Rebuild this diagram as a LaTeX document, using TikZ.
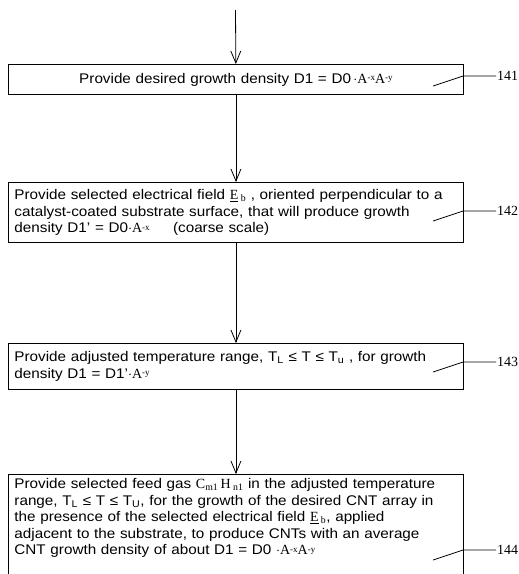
\documentclass[tikz,border=0pt]{standalone}
\usepackage{fontspec}
\setmainfont{Liberation Sans}[FakeStretch=1.09]
\newfontfamily\serf{Liberation Serif}
\usetikzlibrary{arrows.meta}
\newcommand{\Apow}[1]{{\serf A\raisebox{0.4ex}{\fontsize{9}{9}\selectfont #1}}}

\begin{document}
\begin{tikzpicture}[x=1pt,y=-1pt,>={Straight Barb[length=12pt,width=10pt]},
    stepbox/.style={draw,line width=0.9pt,anchor=north west,text width=443pt,inner xsep=6pt,inner ysep=4pt,font=\fontsize{14}{16.5}\selectfont,align=left},
    tag/.style={font=\serf\fontsize{14}{16}\selectfont,anchor=west,inner sep=1pt}]
    \useasboundingbox (0,0) rectangle (519,574);

    \coordinate (top) at (235.5,10);
    \node[stepbox,align=center,minimum height=30pt] (s1) at (8,64) {Provide desired growth density D1 = D0\,$\cdot$\Apow{-x}\Apow{-y}};
    \node[stepbox,minimum height=60pt] (s2) at (8,182) {Provide selected electrical field {\serf\underline{E}\,\textsubscript{b}} , oriented perpendicular to a\\
        catalyst-coated substrate surface, that will produce growth\\
        density D1' = D0$\cdot$\Apow{-x}\quad\ \ (coarse scale)};
    \node[stepbox,minimum height=46pt] (s3) at (8,343) {Provide adjusted temperature range,  T\textsubscript{L} ≤ T ≤ T\textsubscript{u} , for growth\\
        density D1 = D1'$\cdot$\Apow{-y}};
    \node[stepbox,draw=none] (s4) at (8,474) {Provide selected feed gas {\serf C\textsubscript{m1}\,H\,\textsubscript{n1}} in the adjusted  temperature\\
        range, T\textsubscript{L} ≤ T ≤ T\textsubscript{U}, for the growth of the desired CNT array in\\
        the presence of the selected electrical field {\serf\underline{E}\,\textsubscript{b}}, applied\\
        adjacent to the substrate,  to produce CNTs with an average\\
        CNT growth density of about D1 = D0 $\cdot$\Apow{-x}\Apow{-y}};
    % open bottom of last step
    \draw[line width=0.9pt] ([yshift=-30pt]s4.south west) |- (s4.north east) -- ([yshift=-30pt]s4.south east);

    \draw[->,line width=0.8pt] (top) -- (s1);
    \draw[->,line width=0.8pt] (s1) -- (s2);
    \draw[->,line width=0.8pt] (s2) -- (s3);
    \draw[->,line width=0.8pt] (s3) -- (s4);

    \node[tag] (t1) at (496,76) {141};
    \node[tag] (t2) at (496,211) {142};
    \node[tag] (t3) at (496,362) {143};
    \node[tag] (t4) at (496,550) {144};
    \draw[line width=0.8pt] (t1.west) -- ++(-33,0) -- ++(-30,10);
    \draw[line width=0.8pt] (t2.west) -- ++(-33,0) -- ++(-30,10);
    \draw[line width=0.8pt] (t3.west) -- ++(-33,0) -- ++(-30,10);
    \draw[line width=0.8pt] (t4.west) -- ++(-33,0) -- ++(-30,10);
\end{tikzpicture}
\end{document}
